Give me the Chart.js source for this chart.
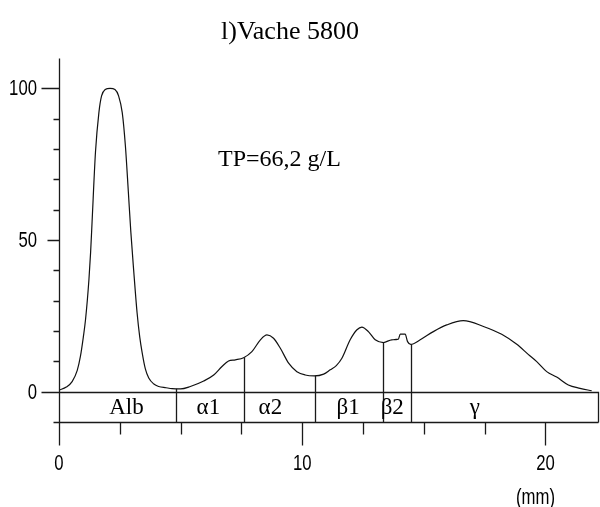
<!DOCTYPE html>
<html>
<head>
<meta charset="utf-8">
<script src="https://cdn.jsdelivr.net/npm/chart.js@4/dist/chart.umd.min.js"></script>
<style>
    body { margin: 0; background: #fff; }
    #wrap { width: 600px; height: 507px; }
</style>
</head>
<body>
<div id="wrap"><canvas id="myChart" width="600" height="507"></canvas></div>
<script>
// densitogramme - position (mm) et intensite relative (%)
var positions = [0.0, 0.3, 0.54, 0.75, 0.88, 1.0, 1.09, 1.23, 1.3, 1.36, 1.5, 1.64, 1.75, 1.9, 2.1, 2.3, 2.45, 2.6,
    2.73, 2.85, 2.95, 3.07, 3.21, 3.32, 3.42, 3.55, 3.69, 3.9, 4.1, 4.4, 4.65, 5.0, 5.4, 5.95, 6.36, 6.7, 6.97, 7.25,
    7.59, 7.93, 8.28, 8.55, 8.82, 9.1, 9.44, 9.78, 10.12, 10.5, 10.88, 11.15, 11.4, 11.63, 11.97, 12.25, 12.45, 12.72,
    13.0, 13.34, 13.68, 13.95, 14.03, 14.23, 14.33, 14.46, 14.85, 15.39, 15.94, 16.62, 17.45, 18.2, 18.82, 19.29,
    19.64, 20.05, 20.46, 20.94, 21.42, 21.9];
var intensity = [0.5, 1.5, 3.3, 7, 11.6, 18, 23.7, 36.9, 46, 56, 79, 92, 97.5, 99.6, 100, 99.6, 97.5, 92,
    81, 66, 53, 40, 26, 18, 12.8, 7.5, 4.5, 2.5, 1.7, 1.3, 1.0, 0.9, 1.7, 3.5, 5.5, 8.3, 10.1, 10.5,
    11.2, 13.2, 17.1, 18.7, 17.6, 14.3, 9.4, 6.6, 5.5, 5.2, 5.8, 7.2, 8.6, 11, 17.1, 20.4, 21.3, 19.8,
    17.1, 16.2, 17.1, 17.3, 19, 19, 16.5, 15.6, 17.1, 19.8, 22, 23.4, 21.5, 18.9, 15.6, 12.3,
    9.9, 6.6, 4.8, 2.2, 1.1, 0.3];

// fractions
var fractionNames = ['Alb', 'α1', 'α2', 'β1', 'β2', 'γ'];
var fractionLabelAt = [2.77, 6.14, 8.69, 11.89, 13.7, 17.1];
var fractionLimits = [4.83, 7.61, 10.53, 13.33, 14.46];

// axes
var xTickLabels = [0, 10, 20];
var xMinorTicks = [2.5, 5, 7.5, 12.5, 15, 17.5];
var yTickLabels = [0, 50, 100];
var yMinorTicks = [10, 20, 30, 40, 60, 70, 80, 90];
var xMax = 22.2;
var yMin = -10;
var yMax = 110;

var chartTitle = 'l)Vache 5800';
var totalProtein = 'TP=66,2 g/L';
var xUnit = '(mm)';

var points = positions.map(function(p, i) {
    return { x: p, y: intensity[i] };
});

// valeur de la courbe a une position donnee (pour les traits de separation)
function curveAt(x) {
    for (var i = 1; i < positions.length; i++) {
        if (positions[i] >= x) {
            var t = (x - positions[i - 1]) / (positions[i] - positions[i - 1]);
            return intensity[i - 1] + t * (intensity[i] - intensity[i - 1]);
        }
    }
    return 0;
}

// texte etroit (police type Arial Narrow)
function narrowText(ctx, text, x, y) {
    ctx.save();
    ctx.translate(x, y);
    ctx.scale(0.76, 1);
    ctx.fillText(text, 0, 0);
    ctx.restore();
}

var decorPlugin = {
    id: 'decor',
    afterDraw: function(chart) {
        var ctx = chart.ctx;
        var xs = chart.scales.x;
        var ys = chart.scales.y;
        function px(v) { return Math.round(xs.getPixelForValue(v)) + 0.5; }
        function py(v) { return Math.round(ys.getPixelForValue(v)) + 0.5; }

        var left = px(0), right = px(xMax) - 1;
        var zero = py(0), bottom = py(yMin), top = py(yMax);

        ctx.save();
        ctx.strokeStyle = '#1a1a1a';
        ctx.lineWidth = 1.3;

        // axe Y
        ctx.beginPath();
        ctx.moveTo(left, top);
        ctx.lineTo(left, bottom);
        ctx.stroke();

        // bande des fractions
        ctx.beginPath();
        ctx.moveTo(left - 18, zero);
        ctx.lineTo(right, zero);
        ctx.lineTo(right, bottom);
        ctx.moveTo(left - 6, bottom);
        ctx.lineTo(right, bottom);
        ctx.stroke();

        // traits de separation
        ctx.beginPath();
        fractionLimits.forEach(function(v) {
            ctx.moveTo(px(v), bottom);
            ctx.lineTo(px(v), ys.getPixelForValue(curveAt(v)));
        });
        ctx.stroke();

        // graduations Y
        ctx.beginPath();
        yTickLabels.forEach(function(v) {
            if (v === 0) return;
            ctx.moveTo(v === 100 ? left - 18 : left - 12, py(v));
            ctx.lineTo(left, py(v));
        });
        yMinorTicks.forEach(function(v) {
            ctx.moveTo(left - 6, py(v));
            ctx.lineTo(left, py(v));
        });
        // graduations X
        xTickLabels.forEach(function(v) {
            ctx.moveTo(px(v), bottom);
            ctx.lineTo(px(v), bottom + 23);
        });
        xMinorTicks.forEach(function(v) {
            ctx.moveTo(px(v), bottom);
            ctx.lineTo(px(v), bottom + 12);
        });
        ctx.stroke();

        ctx.fillStyle = '#000';
        ctx.font = '22px "Liberation Sans", Arial, sans-serif';
        ctx.textBaseline = 'middle';
        ctx.textAlign = 'right';
        yTickLabels.forEach(function(v) {
            narrowText(ctx, String(v), 37, ys.getPixelForValue(v) + 1);
        });
        ctx.textAlign = 'center';
        xTickLabels.forEach(function(v) {
            narrowText(ctx, String(v), xs.getPixelForValue(v), 464);
        });
        ctx.textAlign = 'right';
        narrowText(ctx, xUnit, 555, 498);

        // noms des fractions
        ctx.font = '23px "Liberation Serif", "Times New Roman", serif';
        ctx.textAlign = 'center';
        ctx.textBaseline = 'alphabetic';
        fractionNames.forEach(function(name, i) {
            ctx.fillText(name, xs.getPixelForValue(fractionLabelAt[i]), ys.getPixelForValue(-7.4));
        });

        ctx.font = '26px "Liberation Serif", "Times New Roman", serif';
        ctx.fillText(chartTitle, 290, 39);
        ctx.font = '24px "Liberation Serif", "Times New Roman", serif';
        ctx.textAlign = 'left';
        ctx.fillText(totalProtein, 218, 166);
        ctx.restore();
    }
};

document.addEventListener('DOMContentLoaded', function() {
    var ctx = document.getElementById('myChart').getContext('2d');
    window.myLineChart = new Chart(ctx, {
        type: 'line',
        data: {
            datasets: [{
                data: points,
                borderColor: '#111',
                borderWidth: 1.2,
                pointRadius: 0,
                fill: false,
                cubicInterpolationMode: 'monotone'
            }]
        },
        options: {
            responsive: false,
            animation: false,
            events: [],
            layout: {
                padding: { left: 59, right: 1, top: 58, bottom: 85 }
            },
            plugins: {
                legend: { display: false },
                title: { display: false },
                tooltip: { enabled: false }
            },
            scales: {
                x: { type: 'linear', min: 0, max: xMax, display: false },
                y: { min: yMin, max: yMax, display: false }
            }
        },
        plugins: [decorPlugin]
    });
});
</script>
</body>
</html>
